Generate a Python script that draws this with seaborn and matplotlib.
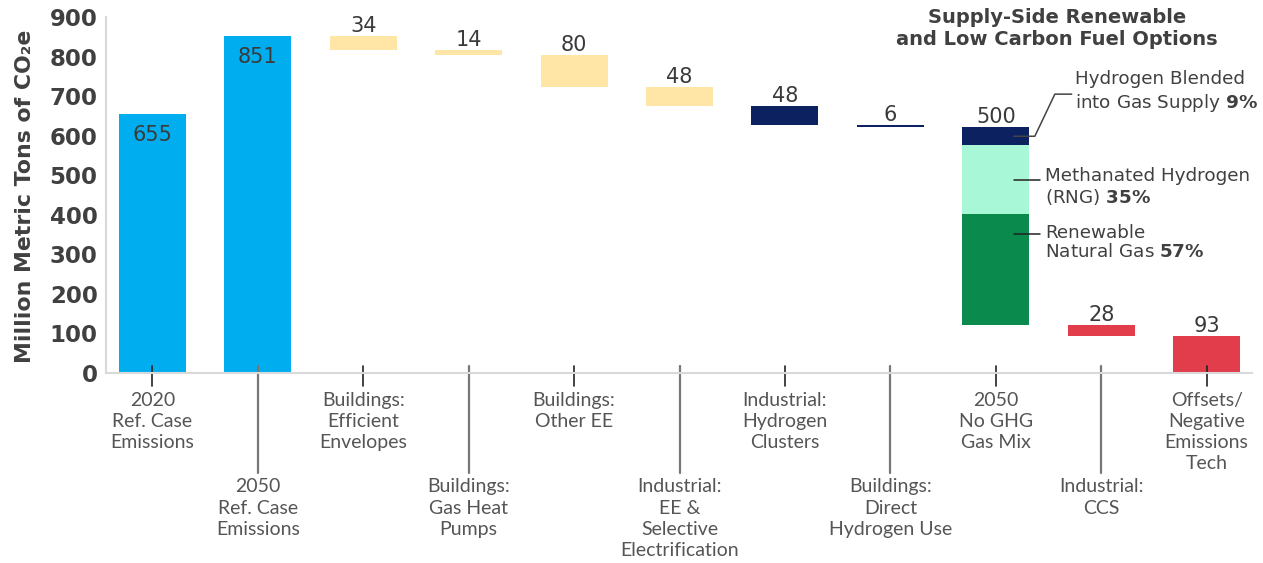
import matplotlib
matplotlib.use('Agg')
import matplotlib.pyplot as plt
import numpy as np
import pandas as pd
import seaborn as sns

# data
categories = ['2020\nRef. Case\nEmissions', '2050\nRef. Case\nEmissions',
              'Buildings:\nEfficient\nEnvelopes', 'Buildings:\nGas Heat\nPumps',
              'Buildings:\nOther EE', 'Industrial:\nEE &\nSelective\nElectrification',
              'Industrial:\nHydrogen\nClusters', 'Buildings:\nDirect\nHydrogen Use',
              '2050\nNo GHG\nGas Mix', 'Industrial:\nCCS',
              'Offsets/\nNegative\nEmissions\nTech']
values = [655, 851, 34, 14, 80, 48, 48, 6, 500, 28, 93]
kinds = ['total', 'total', 'delta', 'delta', 'delta', 'delta', 'delta', 'delta', 'delta', 'delta', 'total']
colors = ['#00AEEF', '#00AEEF', '#FFE6A6', '#FFE6A6', '#FFE6A6', '#FFE6A6',
          '#0C2260', '#0C2260', '#0C2260', '#E23D4B', '#E23D4B']
mix_labels = ['Hydrogen Blended\ninto Gas Supply', 'Methanated Hydrogen\n(RNG)', 'Renewable\nNatural Gas']
mix_shares = [9, 35, 57]
mix_colors = ['#0C2260', '#A8F7D6', '#0B8A4E']

# waterfall tops / bottoms
tops, bottoms = [], []
level = 0
for v, k in zip(values, kinds):
    if k == 'total':
        tops.append(v); bottoms.append(0); level = v
    else:
        tops.append(level); bottoms.append(level - v); level -= v

df = pd.DataFrame({'cat': categories, 'top': tops, 'bottom': bottoms})
mix_i = 8
mix_top = tops[mix_i]
mint_top = mix_top - values[mix_i] * mix_shares[0] / 100
green_top = mint_top - values[mix_i] * mix_shares[1] / 100

sns.set_style('white')
plt.rcParams['font.family'] = ['DejaVu Sans']
plt.rcParams['mathtext.fontset'] = 'custom'
plt.rcParams['mathtext.rm'] = 'DejaVu Sans'
plt.rcParams['mathtext.bf'] = 'DejaVu Sans:bold'

fig = plt.figure(figsize=(12.63, 5.63), dpi=100)
ax = fig.add_axes([106/1263, 1-373/563, (1252-106)/1263, (373-17)/563])

bw = 0.635
kw = dict(width=bw, order=categories, ax=ax, saturation=1, linewidth=0, edgecolor='none')
sns.barplot(data=df, x='cat', y='top', hue='cat', palette=colors, legend=False, **kw)
sns.barplot(x=[categories[mix_i]], y=[mint_top], color=mix_colors[1], **kw)
sns.barplot(x=[categories[mix_i]], y=[green_top], color=mix_colors[2], **kw)
sns.barplot(data=df, x='cat', y='bottom', color='white', **kw)

ax.set_xlim(-0.44, 10.43)
ax.set_ylim(0, 900)
ax.set_yticks(range(0, 901, 100))
ax.set_xticks([])
ax.set_xlabel('')
ax.set_ylabel('')
for lab in ax.get_yticklabels():
    lab.set_fontweight('bold'); lab.set_fontsize(16.5); lab.set_color('#404040')
ax.tick_params(axis='y', length=0, pad=6)
for s in ['top', 'right']:
    ax.spines[s].set_visible(False)
for s in ['left', 'bottom']:
    ax.spines[s].set_color('#D9D9D9'); ax.spines[s].set_linewidth(1.5)

fig.text(25/1263, 1-196/563, 'Million Metric Tons of CO₂e', rotation=90,
         ha='center', va='center', fontsize=15.8, fontweight='bold', color='#404040')

# value labels
for i, (v, t) in enumerate(zip(values, tops)):
    if i < 2:
        ax.annotate(str(v), (i, t), xytext=(0, -15), textcoords='offset points',
                    ha='center', va='center', fontsize=15, color='#3a3a3a')
    else:
        ax.annotate(str(v), (i, t), xytext=(0, 3), textcoords='offset points',
                    ha='center', va='baseline', fontsize=15, color='#3a3a3a')

# category labels with staggered leader lines
trans = ax.get_xaxis_transform()
for i, c in enumerate(categories):
    if i % 2 == 0:
        ax.plot([i, i], [0.02, -0.037], transform=trans, clip_on=False, color='#222222', lw=1.2)
        ty = -0.053
    else:
        ax.plot([i, i], [0.02, -0.281], transform=trans, clip_on=False, color='#777777', lw=1.6)
        ty = -0.296
    ax.text(i, ty, c, transform=trans, ha='center', va='top', fontsize=14,
            family='Lato', color='#555555', linespacing=1.3)

# gas mix annotations
navy_mid = (mix_top + mint_top) / 2
mint_mid = (mint_top + green_top) / 2
ax.plot([8.17, 8.37, 8.56, 8.72], [navy_mid, navy_mid, 705, 705], color='#444444', lw=1.1, clip_on=False)
ax.plot([8.17, 8.42], [mint_mid, mint_mid], color='#222222', lw=1.1)
ax.plot([8.17, 8.42], [green_top - 50, green_top - 50], color='#222222', lw=1.1)
ann_pos = [(8.75, 767), (8.47, 520), (8.47, 377)]
ann_ls = [1.25, 1.1, 1.05]
for lab, sh, (x, y), ls in zip(mix_labels, mix_shares, ann_pos, ann_ls):
    ax.text(x, y, lab + ' $\\mathbf{' + str(sh) + '\\%}$', ha='left', va='top', fontsize=13.2,
            color='#404040', linespacing=ls)

fig.text(1057/1263, 1-8/563, 'Supply-Side Renewable\nand Low Carbon Fuel Options',
         ha='center', va='top', fontsize=14, fontweight='bold', color='#404040', linespacing=1.2)

fig.savefig('out.png', dpi=100)
